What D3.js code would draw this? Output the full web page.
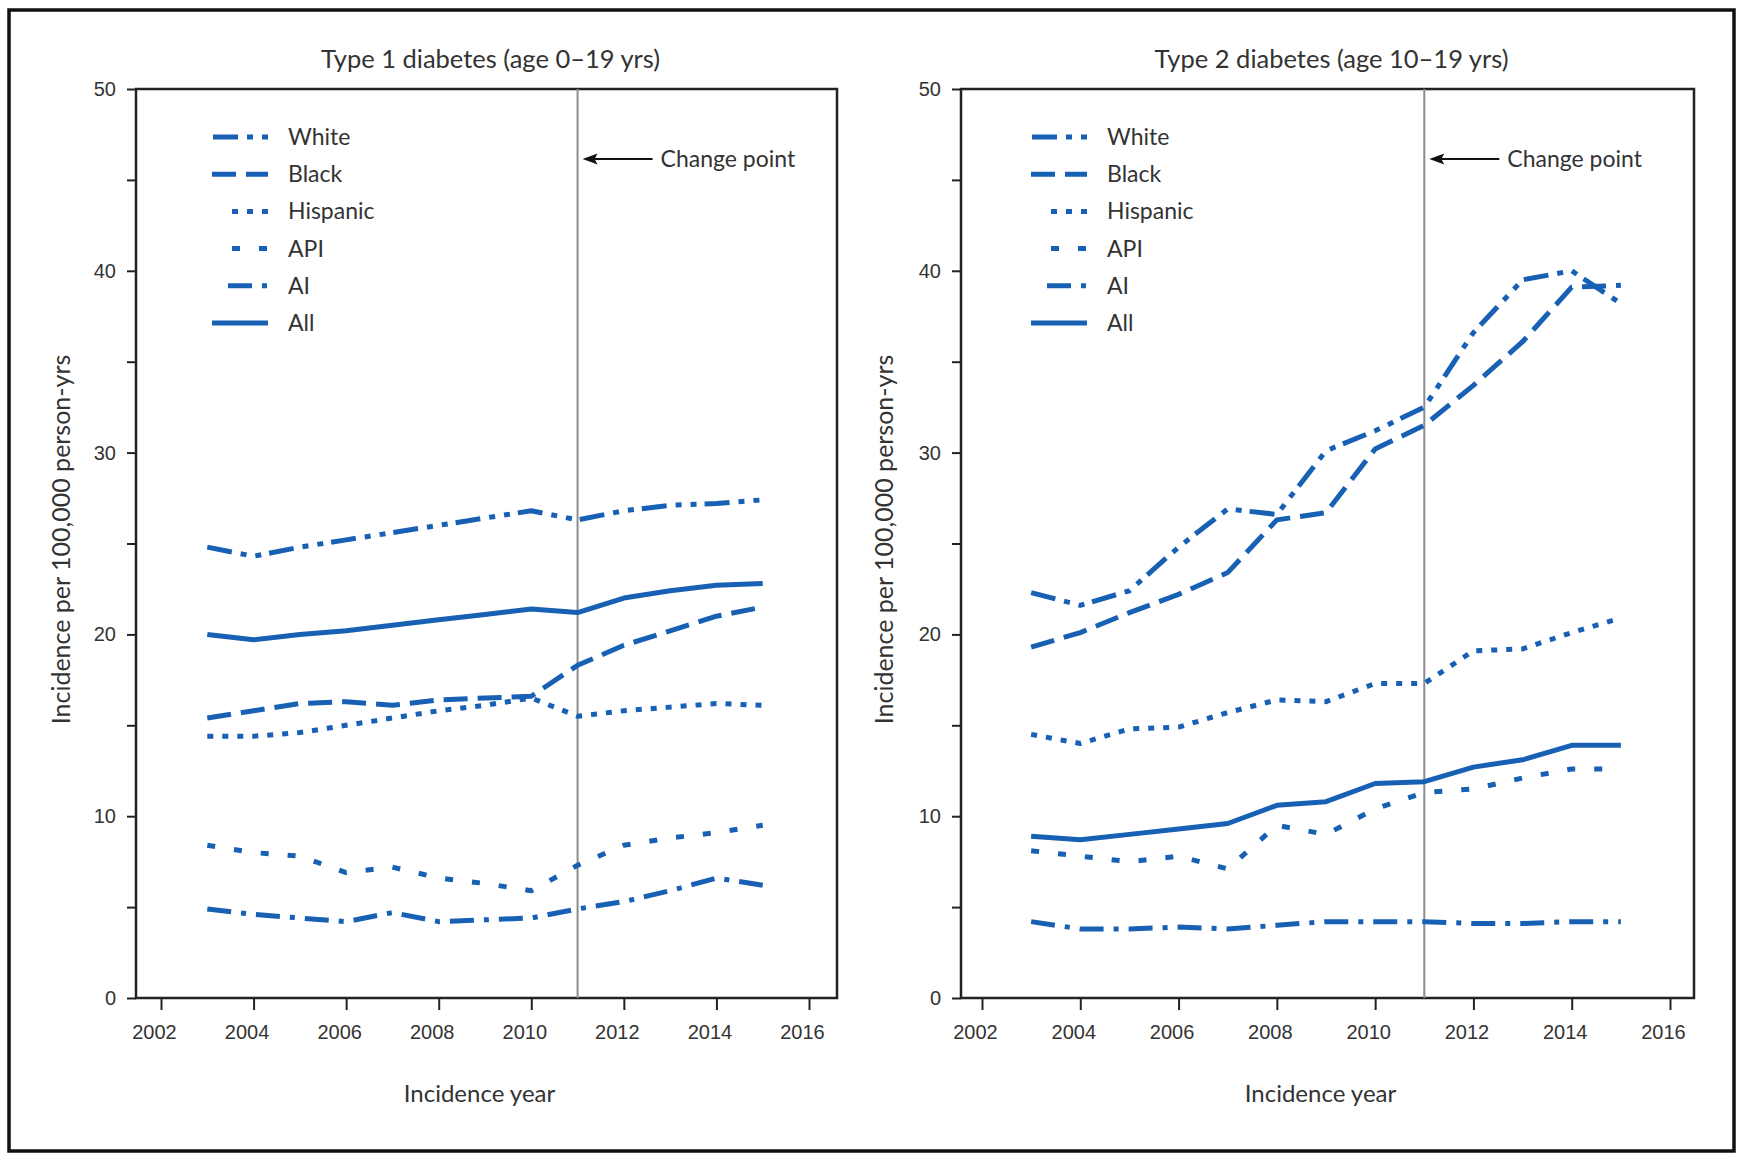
<!DOCTYPE html>
<html>
<head>
<meta charset="utf-8">
<script src="https://cdnjs.cloudflare.com/ajax/libs/d3/7.8.5/d3.min.js"></script>
<style>
  body { margin: 0; background: #fff; }
  svg { display: block; font-family: Lato, "Open Sans", sans-serif; }
  .tick text { fill: #333; }
</style>
</head>
<body>
<script>
// incidence years and axis ticks
const years = [2003, 2004, 2005, 2006, 2007, 2008, 2009, 2010, 2011, 2012, 2013, 2014, 2015];
const xTicks = [2002, 2004, 2006, 2008, 2010, 2012, 2014, 2016];
const yTicks = [0, 5, 10, 15, 20, 25, 30, 35, 40, 45, 50];
const groups = ["White", "Black", "Hispanic", "API", "AI", "All"];
const changePointYear = 2011;

// Type 1 diabetes, age 0-19
const type1White    = [24.8, 24.3, 24.8, 25.2, 25.6, 26.0, 26.4, 26.8, 26.3, 26.8, 27.1, 27.2, 27.4];
const type1Black    = [15.4, 15.8, 16.2, 16.3, 16.1, 16.4, 16.5, 16.6, 18.3, 19.4, 20.2, 21.0, 21.5];
const type1Hispanic = [14.4, 14.4, 14.6, 15.0, 15.4, 15.8, 16.1, 16.5, 15.5, 15.8, 16.0, 16.2, 16.1];
const type1API      = [8.4, 8.0, 7.8, 6.9, 7.2, 6.6, 6.3, 5.9, 7.3, 8.4, 8.8, 9.1, 9.5];
const type1AI       = [4.9, 4.6, 4.4, 4.2, 4.7, 4.2, 4.3, 4.4, 4.9, 5.3, 5.9, 6.6, 6.2];
const type1All      = [20.0, 19.7, 20.0, 20.2, 20.5, 20.8, 21.1, 21.4, 21.2, 22.0, 22.4, 22.7, 22.8];

// Type 2 diabetes, age 10-19
const type2White    = [22.3, 21.6, 22.4, 24.8, 26.9, 26.6, 30.1, 31.2, 32.5, 36.6, 39.5, 40.0, 38.2];
const type2Black    = [19.3, 20.1, 21.2, 22.2, 23.4, 26.3, 26.7, 30.2, 31.5, 33.7, 36.1, 39.1, 39.2];
const type2Hispanic = [14.5, 14.0, 14.8, 14.9, 15.7, 16.4, 16.3, 17.3, 17.3, 19.1, 19.2, 20.1, 20.9];
const type2API      = [8.1, 7.8, 7.5, 7.8, 7.1, 9.5, 9.0, 10.4, 11.3, 11.5, 12.1, 12.6, 12.6];
const type2AI       = [4.2, 3.8, 3.8, 3.9, 3.8, 4.0, 4.2, 4.2, 4.2, 4.1, 4.1, 4.2, 4.2];
const type2All      = [8.9, 8.7, 9.0, 9.3, 9.6, 10.6, 10.8, 11.8, 11.9, 12.7, 13.1, 13.9, 13.9];

const blue = "#1760b3";
const ink = "#333";

// line style per group (dash pattern + where the legend sample starts)
const styles = {
    White:    {dash: "25 9 6 9 6 8", legendStart: 1},
    Black:    {dash: "24 10",        legendStart: 0},
    Hispanic: {dash: "6 9",          legendStart: 20},
    API:      {dash: "8 19",         legendStart: 20},
    AI:       {dash: "24 10 5 10",   legendStart: 16},
    All:      {dash: null,           legendStart: 0}
};

const panels = [
    {
        title: "Type 1 diabetes (age 0\u201319 yrs)",
        values: [type1White, type1Black, type1Hispanic, type1API, type1AI, type1All],
        x0: 136, x1: 837, xRange: [161, 809], legendX: 212, yLabelX: 70
    },
    {
        title: "Type 2 diabetes (age 10\u201319 yrs)",
        values: [type2White, type2Black, type2Hispanic, type2API, type2AI, type2All],
        x0: 961, x1: 1694, xRange: [982, 1670], legendX: 1031, yLabelX: 893
    }
];

const W = 1744, H = 1158;
const plotTop = 89, plotBottom = 998;

const svg = d3.select("body").append("svg")
    .attr("width", W)
    .attr("height", H);

svg.append("rect")
    .attr("width", W).attr("height", H)
    .attr("fill", "#fff");

// outer frame
svg.append("rect")
    .attr("x", 9).attr("y", 10)
    .attr("width", 1725).attr("height", 1141)
    .attr("fill", "none")
    .attr("stroke", "#111")
    .attr("stroke-width", 3.5);

const y = d3.scaleLinear().domain([0, 50]).range([plotBottom, plotTop]);

panels.forEach(p => {
    const x = d3.scaleLinear().domain([2002, 2016]).range(p.xRange);
    const g = svg.append("g");
    const mid = (p.x0 + p.x1) / 2;

    // title
    g.append("text")
        .attr("x", mid + 4).attr("y", 68)
        .attr("text-anchor", "middle")
        .attr("font-size", 25.5)
        .attr("fill", ink)
        .text(p.title);

    // y axis (ticks every 5, labels every 10)
    const yAxis = g.append("g")
        .attr("transform", `translate(${p.x0},0)`)
        .call(d3.axisLeft(y)
            .tickValues(yTicks)
            .tickSize(9)
            .tickPadding(11)
            .tickFormat(d => d % 10 === 0 ? d : ""));
    yAxis.select(".domain").remove();
    yAxis.selectAll(".tick line").attr("stroke", "#222").attr("stroke-width", 2);
    yAxis.selectAll(".tick text").attr("font-size", 20);

    // x axis
    const xAxis = g.append("g")
        .attr("transform", `translate(0,${plotBottom})`)
        .call(d3.axisBottom(x)
            .tickValues(xTicks)
            .tickSize(12)
            .tickPadding(15)
            .tickFormat(d3.format("d")));
    xAxis.select(".domain").remove();
    xAxis.selectAll(".tick line").attr("stroke", "#222").attr("stroke-width", 2);
    xAxis.selectAll(".tick text").attr("font-size", 20).attr("dx", -7);

    // plot box
    g.append("rect")
        .attr("x", p.x0).attr("y", plotTop)
        .attr("width", p.x1 - p.x0).attr("height", plotBottom - plotTop)
        .attr("fill", "none")
        .attr("stroke", "#222")
        .attr("stroke-width", 2.5);

    // axis titles
    g.append("text")
        .attr("x", mid - 7).attr("y", 1102)
        .attr("text-anchor", "middle")
        .attr("font-size", 24)
        .attr("fill", ink)
        .text("Incidence year");

    g.append("text")
        .attr("transform", `translate(${p.yLabelX},${(plotTop + plotBottom) / 2 - 4}) rotate(-90)`)
        .attr("text-anchor", "middle")
        .attr("font-size", 25)
        .attr("fill", ink)
        .text("Incidence per 100,000 person-yrs");

    // change point
    const cx = x(changePointYear);
    g.append("line")
        .attr("x1", cx).attr("x2", cx)
        .attr("y1", plotTop).attr("y2", plotBottom)
        .attr("stroke", "#8c8c8c")
        .attr("stroke-width", 2);

    const tip = cx + 5, ay = 159;
    g.append("line")
        .attr("x1", cx + 75).attr("x2", tip + 8)
        .attr("y1", ay).attr("y2", ay)
        .attr("stroke", "#111")
        .attr("stroke-width", 2);
    g.append("path")
        .attr("d", `M${tip},${ay} L${tip + 15},${ay - 5.5} L${tip + 12},${ay} L${tip + 15},${ay + 5.5} Z`)
        .attr("fill", "#111");

    g.append("text")
        .attr("x", cx + 83).attr("y", 167)
        .attr("font-size", 23)
        .attr("fill", ink)
        .text("Change point");

    // series lines
    const line = d3.line()
        .x((d, i) => x(years[i]))
        .y(d => y(d));

    groups.forEach((name, k) => {
        g.append("path")
            .datum(p.values[k])
            .attr("d", line)
            .attr("fill", "none")
            .attr("stroke", blue)
            .attr("stroke-width", 5)
            .attr("stroke-linejoin", "round")
            .attr("stroke-dasharray", styles[name].dash);
    });

    // legend
    const rowY = d3.scalePoint().domain(groups).range([137, 323]);
    const leg = g.append("g");
    groups.forEach(name => {
        const ly = rowY(name);
        leg.append("line")
            .attr("x1", p.legendX + styles[name].legendStart)
            .attr("x2", p.legendX + 56)
            .attr("y1", ly).attr("y2", ly)
            .attr("stroke", blue)
            .attr("stroke-width", 5)
            .attr("stroke-dasharray", styles[name].dash);
        leg.append("text")
            .attr("x", p.legendX + 76)
            .attr("y", ly + 8)
            .attr("font-size", 23)
            .attr("fill", ink)
            .text(name);
    });
});
</script>
</body>
</html>
